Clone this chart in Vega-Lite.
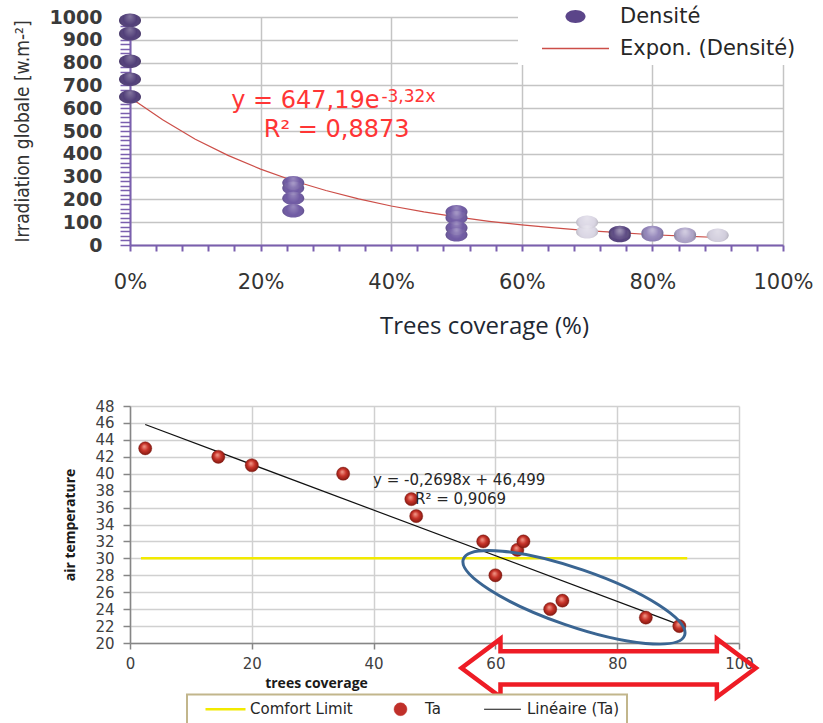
{
  "$schema": "https://vega.github.io/schema/vega-lite/v6.json",
  "background": "white",
  "padding": {"left": 12, "top": 0, "right": 0, "bottom": 0},
  "bounds": "flush",
  "spacing": 161,
  "datasets": {
    "densite": [
      {"couverture": 0, "irradiation": 985},
      {"couverture": 0, "irradiation": 927},
      {"couverture": 0, "irradiation": 806},
      {"couverture": 0, "irradiation": 727},
      {"couverture": 0, "irradiation": 650},
      {"couverture": 0.25, "irradiation": 273},
      {"couverture": 0.25, "irradiation": 250},
      {"couverture": 0.25, "irradiation": 205},
      {"couverture": 0.25, "irradiation": 150},
      {"couverture": 0.5, "irradiation": 145},
      {"couverture": 0.5, "irradiation": 120},
      {"couverture": 0.5, "irradiation": 75},
      {"couverture": 0.5, "irradiation": 45},
      {"couverture": 0.7, "irradiation": 100},
      {"couverture": 0.7, "irradiation": 58},
      {"couverture": 0.75, "irradiation": 55},
      {"couverture": 0.75, "irradiation": 42},
      {"couverture": 0.8, "irradiation": 55},
      {"couverture": 0.8, "irradiation": 45},
      {"couverture": 0.85, "irradiation": 47},
      {"couverture": 0.85, "irradiation": 38},
      {"couverture": 0.9, "irradiation": 43}
    ],
    "tendance": [
      {"couverture": 0, "irradiation": 647, "serie": "Expon. (Densité)"},
      {"couverture": 0.05, "irradiation": 549, "serie": "Expon. (Densité)"},
      {"couverture": 0.1, "irradiation": 464, "serie": "Expon. (Densité)"},
      {"couverture": 0.15, "irradiation": 393, "serie": "Expon. (Densité)"},
      {"couverture": 0.2, "irradiation": 333, "serie": "Expon. (Densité)"},
      {"couverture": 0.25, "irradiation": 282, "serie": "Expon. (Densité)"},
      {"couverture": 0.3, "irradiation": 239, "serie": "Expon. (Densité)"},
      {"couverture": 0.35, "irradiation": 202, "serie": "Expon. (Densité)"},
      {"couverture": 0.4, "irradiation": 171, "serie": "Expon. (Densité)"},
      {"couverture": 0.45, "irradiation": 145, "serie": "Expon. (Densité)"},
      {"couverture": 0.5, "irradiation": 123, "serie": "Expon. (Densité)"},
      {"couverture": 0.55, "irradiation": 104, "serie": "Expon. (Densité)"},
      {"couverture": 0.6, "irradiation": 88, "serie": "Expon. (Densité)"},
      {"couverture": 0.65, "irradiation": 75, "serie": "Expon. (Densité)"},
      {"couverture": 0.7, "irradiation": 63, "serie": "Expon. (Densité)"},
      {"couverture": 0.75, "irradiation": 54, "serie": "Expon. (Densité)"},
      {"couverture": 0.8, "irradiation": 45, "serie": "Expon. (Densité)"},
      {"couverture": 0.85, "irradiation": 39, "serie": "Expon. (Densité)"},
      {"couverture": 0.9, "irradiation": 33, "serie": "Expon. (Densité)"}
    ],
    "ta": [
      {"couverture": 2.5, "temperature": 43},
      {"couverture": 14.5, "temperature": 42},
      {"couverture": 20, "temperature": 41},
      {"couverture": 35, "temperature": 40},
      {"couverture": 46.2, "temperature": 37},
      {"couverture": 47, "temperature": 35},
      {"couverture": 58, "temperature": 32},
      {"couverture": 63.6, "temperature": 31},
      {"couverture": 64.6, "temperature": 32},
      {"couverture": 60, "temperature": 28},
      {"couverture": 69, "temperature": 24},
      {"couverture": 71, "temperature": 25},
      {"couverture": 84.7, "temperature": 23},
      {"couverture": 90.2, "temperature": 22}
    ],
    "confort": [
      {"couverture": 1.8, "temperature": 30, "serie": "Comfort Limit"},
      {"couverture": 91.5, "temperature": 30, "serie": "Comfort Limit"}
    ],
    "lineaire": [
      {"couverture": 2.5, "temperature": 45.82, "serie": "Linéaire (Ta)"},
      {"couverture": 90.5, "temperature": 22.08, "serie": "Linéaire (Ta)"}
    ]
  },
  "vconcat": [
    {
      "width": 653,
      "height": 228,
      "layer": [
        {
          "data": {"name": "tendance"},
          "mark": {"type": "line", "strokeWidth": 1.2},
          "encoding": {
            "x": {
              "field": "couverture", "type": "quantitative",
              "scale": {"domain": [0, 1], "nice": false, "zero": false},
              "axis": {
                "title": "Trees coverage  (%)",
                "titleFont": "Open Sans", "titleFontSize": 24, "titleFontWeight": "normal", "titleColor": "#1e2833",
                "titleX": 354, "titleY": 81, "titleBaseline": "middle",
                "values": [0, 0.04, 0.08, 0.12, 0.16, 0.2, 0.24, 0.28, 0.32, 0.36, 0.4, 0.44, 0.48, 0.52, 0.56, 0.6, 0.64, 0.68, 0.72, 0.76, 0.8, 0.84, 0.88, 0.92, 0.96, 1],
                "tickCount": 200,
                "labelExpr": "round(datum.value*100) % 20 === 0 ? round(datum.value*100) + '%' : ''",
                "labelFont": "DejaVu Sans", "labelFontSize": 21, "labelColor": "#333333",
                "labelPadding": 20, "labelFlush": false, "labelOverlap": false,
                "tickSize": 6, "tickColor": "#7a5fae", "tickWidth": 2,
                "domainColor": "#7a5fae", "domainWidth": 2,
                "grid": true, "gridColor": "#c4c4c4", "gridWidth": 1.5,
                "gridOpacity": {"condition": {"test": "round(datum.value*100) % 20 === 0", "value": 1}, "value": 0}
              }
            },
            "y": {
              "field": "irradiation", "type": "quantitative",
              "scale": {"domain": [0, 1000], "nice": false, "zero": false},
              "axis": {
                "title": "Irradiation globale [w.m-²]",
                "titleFont": "Liberation Sans Narrow, DejaVu Sans Condensed, sans-serif", "titleFontSize": 19, "titleFontWeight": "normal", "titleColor": "#333333",
                "titleX": -108, "titleBaseline": "middle",
                "values": [0, 20, 40, 60, 80, 100, 120, 140, 160, 180, 200, 220, 240, 260, 280, 300, 320, 340, 360, 380, 400, 420, 440, 460, 480, 500, 520, 540, 560, 580, 600, 620, 640, 660, 680, 700, 720, 740, 760, 780, 800, 820, 840, 860, 880, 900, 920, 940, 960, 980, 1000],
                "tickCount": 200,
                "labelExpr": "datum.value % 100 === 0 ? '' + datum.value : ''",
                "labelFont": "DejaVu Sans", "labelFontWeight": "bold", "labelFontSize": 19, "labelColor": "#3a3a3a",
                "labelPadding": 18, "labelFlush": false, "labelOverlap": false,
                "tickSize": 10, "tickColor": "#7a5fae", "tickWidth": 1.5,
                "domainColor": "#7a5fae", "domainWidth": 2,
                "grid": true, "gridColor": "#c4c4c4", "gridWidth": 1.5,
                "gridOpacity": {"condition": {"test": "datum.value % 100 === 0", "value": 1}, "value": 0}
              }
            },
            "color": {
              "field": "serie", "type": "nominal",
              "scale": {"domain": ["Densité", "Expon. (Densité)"], "range": ["#5b4589", "#cc4e48"]},
              "legend": {
                "orient": "none", "legendX": 388, "legendY": -17, "direction": "vertical",
                "title": "\u00a0", "titleOrient": "left", "titleFontSize": 20, "titlePadding": 41,
                "padding": 6, "fillColor": "white", "strokeColor": null,
                "symbolSize": 400, "labelOffset": 34, "rowPadding": 10,
                "labelFont": "DejaVu Sans", "labelFontSize": 21, "labelColor": "#262626", "labelLimit": 300,
                "encode": {
                  "symbols": {
                    "update": {
                      "shape": {"signal": "datum.value === 'Expon. (Densité)' ? 'M -3.35 0 L 3.35 0' : 'M -1 0 A 1 0.65 0 1 1 1 0 A 1 0.65 0 1 1 -1 0 Z'"},
                      "fill": {"signal": "datum.value === 'Expon. (Densité)' ? 'transparent' : '#5b4589'"},
                      "stroke": {"signal": "datum.value === 'Expon. (Densité)' ? '#cc4e48' : '#5b4589'"},
                      "strokeWidth": {"signal": "datum.value === 'Expon. (Densité)' ? 1.5 : 0"},
                      "opacity": {"value": 1}
                    }
                  }
                }
              }
            }
          }
        },
        {
          "data": {"name": "densite"},
          "mark": {"type": "point", "filled": true, "size": 484, "opacity": 1, "strokeWidth": 0,
            "shape": "M -1 0 A 1 0.62 0 1 1 1 0 A 1 0.62 0 1 1 -1 0 Z"},
          "encoding": {
            "x": {"field": "couverture", "type": "quantitative"},
            "y": {"field": "irradiation", "type": "quantitative"},
            "fill": {
              "field": "couverture", "type": "ordinal",
              "scale": {"domain": [0, 0.25, 0.5, 0.7, 0.75, 0.8, 0.85, 0.9], "range": ["#4b3874", "#6a54a0", "#6a54a0", "#dad6e4", "#4e3a78", "#8a7bb4", "#a89ec4", "#d2cedd"]},
              "legend": null
            }
          }
        },
        {
          "data": {"name": "densite"},
          "mark": {
            "type": "point", "filled": true, "size": 484, "strokeWidth": 0,
            "shape": "M -1 0 A 1 0.62 0 1 1 1 0 A 1 0.62 0 1 1 -1 0 Z",
            "fill": {"gradient": "radial", "x1": 0.5, "y1": 0.3, "r1": 0, "x2": 0.5, "y2": 0.5, "r2": 0.55,
              "stops": [{"offset": 0, "color": "rgba(255,255,255,0.45)"}, {"offset": 0.55, "color": "rgba(255,255,255,0.05)"}, {"offset": 1, "color": "rgba(0,0,0,0.35)"}]}
          },
          "encoding": {
            "x": {"field": "couverture", "type": "quantitative"},
            "y": {"field": "irradiation", "type": "quantitative"}
          }
        },
        {
          "data": {"values": [{}]},
          "mark": {"type": "text", "text": "y = 647,19e", "align": "left", "baseline": "middle", "font": "DejaVu Sans", "fontSize": 24, "color": "#ff3535"},
          "encoding": {"x": {"datum": 0.155}, "y": {"datum": 630}}
        },
        {
          "data": {"values": [{}]},
          "mark": {"type": "text", "text": "-3,32x", "align": "left", "baseline": "middle", "font": "DejaVu Sans", "fontSize": 17, "color": "#ff3535"},
          "encoding": {"x": {"datum": 0.385}, "y": {"datum": 650}}
        },
        {
          "data": {"values": [{}]},
          "mark": {"type": "text", "text": "R² = 0,8873", "align": "left", "baseline": "middle", "font": "DejaVu Sans", "fontSize": 24, "color": "#ff3535"},
          "encoding": {"x": {"datum": 0.205}, "y": {"datum": 504}}
        }
      ]
    },
    {
      "width": 609,
      "height": 237,
      "layer": [
        {
          "data": {"name": "confort"},
          "mark": {"type": "line", "strokeWidth": 2.5},
          "encoding": {
            "x": {
              "field": "couverture", "type": "quantitative",
              "scale": {"domain": [0, 100], "nice": false, "zero": false},
              "axis": {
                "title": "trees coverage",
                "titleFont": "Open Sans", "titleFontWeight": "bold", "titleFontSize": 14, "titleColor": "#1a1a1a",
                "titleX": 186, "titleY": 40, "titleBaseline": "middle",
                "values": [0, 20, 40, 60, 80, 100], "tickCount": 50, "format": "d",
                "labelFont": "DejaVu Sans", "labelFontSize": 15, "labelColor": "#404040",
                "labelPadding": 7, "labelFlush": false, "labelOverlap": false,
                "tickSize": 6, "tickColor": "#868686", "tickWidth": 1.5,
                "domainColor": "#868686", "domainWidth": 1.5,
                "grid": true, "gridColor": "#d0d0d0", "gridWidth": 1.5
              }
            },
            "y": {
              "field": "temperature", "type": "quantitative",
              "scale": {"domain": [20, 48], "nice": false, "zero": false},
              "axis": {
                "title": "air temperature",
                "titleFont": "Open Sans", "titleFontWeight": "bold", "titleFontSize": 14, "titleColor": "#1a1a1a",
                "titleX": -60, "titleBaseline": "middle",
                "values": [20, 22, 24, 26, 28, 30, 32, 34, 36, 38, 40, 42, 44, 46, 48], "tickCount": 50, "format": "d",
                "labelFont": "DejaVu Sans", "labelFontSize": 15, "labelColor": "#404040",
                "labelPadding": 9, "labelFlush": false, "labelOverlap": false,
                "tickSize": 7, "tickColor": "#868686", "tickWidth": 1.5,
                "domainColor": "#868686", "domainWidth": 1.5,
                "grid": true, "gridColor": "#d0d0d0", "gridWidth": 1.5
              }
            },
            "color": {
              "field": "serie", "type": "nominal",
              "scale": {"domain": ["Comfort Limit", "Ta", "Linéaire (Ta)"], "range": ["#f2ea00", "#c0302a", "#111111"]},
              "legend": {
                "orient": "none", "legendX": 57, "legendY": 288.5, "direction": "horizontal", "columns": 3,
                "title": "\u00a0", "titleOrient": "left", "titleFontSize": 15, "titlePadding": 24,
                "padding": 7, "fillColor": "white", "strokeColor": "#c2b68c",
                "symbolSize": 256, "labelOffset": 17, "columnPadding": 40,
                "labelFont": "DejaVu Sans", "labelFontSize": 15, "labelColor": "#262626", "labelLimit": 250,
                "encode": {
                  "legend": {"update": {"strokeWidth": {"value": 2}}},
                  "symbols": {
                    "update": {
                      "shape": {"signal": "datum.value === 'Ta' ? 'M -0.8 0 A 0.8 0.8 0 1 1 0.8 0 A 0.8 0.8 0 1 1 -0.8 0 Z' : (datum.value === 'Comfort Limit' ? 'M -2.5 0 L 2.5 0' : 'M -2.3 0 L 2.3 0')"},
                      "fill": {"signal": "datum.value === 'Ta' ? '#c0302a' : 'transparent'"},
                      "stroke": {"signal": "datum.value === 'Comfort Limit' ? '#f2ea00' : (datum.value === 'Ta' ? '#8a1c14' : '#111111')"},
                      "strokeWidth": {"signal": "datum.value === 'Comfort Limit' ? 2.5 : (datum.value === 'Ta' ? 0.5 : 1.2)"},
                      "opacity": {"value": 1}
                    }
                  }
                }
              }
            }
          }
        },
        {
          "data": {"name": "lineaire"},
          "mark": {"type": "line", "strokeWidth": 1.2},
          "encoding": {
            "x": {"field": "couverture", "type": "quantitative"},
            "y": {"field": "temperature", "type": "quantitative"},
            "color": {"field": "serie", "type": "nominal"}
          }
        },
        {
          "data": {"name": "ta"},
          "mark": {
            "type": "point", "shape": "circle", "filled": true, "size": 175, "opacity": 1,
            "stroke": "#7a1a12", "strokeWidth": 0.4,
            "fill": {"gradient": "radial", "x1": 0.42, "y1": 0.35, "r1": 0, "x2": 0.5, "y2": 0.5, "r2": 0.6,
              "stops": [{"offset": 0, "color": "#f4a090"}, {"offset": 0.45, "color": "#c8342a"}, {"offset": 1, "color": "#701008"}]}
          },
          "encoding": {
            "x": {"field": "couverture", "type": "quantitative"},
            "y": {"field": "temperature", "type": "quantitative"}
          }
        },
        {
          "data": {"values": [{}]},
          "mark": {"type": "text", "text": "y = -0,2698x + 46,499", "align": "left", "baseline": "middle", "font": "DejaVu Sans", "fontSize": 15, "color": "#262626"},
          "encoding": {"x": {"datum": 39.9}, "y": {"datum": 39.26}}
        },
        {
          "data": {"values": [{}]},
          "mark": {"type": "text", "text": "R² = 0,9069", "align": "left", "baseline": "middle", "font": "DejaVu Sans", "fontSize": 15, "color": "#262626"},
          "encoding": {"x": {"datum": 46.8}, "y": {"datum": 37.0}}
        },
        {
          "data": {"values": [{}]},
          "mark": {
            "type": "point", "filled": false, "size": 54756, "angle": 19,
            "shape": "M -1 0 A 1 0.245 0 1 1 1 0 A 1 0.245 0 1 1 -1 0 Z",
            "stroke": "#3a6592", "strokeWidth": 3, "opacity": 1
          },
          "encoding": {"x": {"datum": 72.9}, "y": {"datum": 25.4}}
        },
        {
          "data": {"values": [{}]},
          "mark": {
            "type": "point", "filled": false, "size": 86671, "clip": false,
            "shape": "M -1 0 L -0.735 -0.198 L -0.735 -0.113 L 0.735 -0.113 L 0.735 -0.198 L 1 0 L 0.735 0.198 L 0.735 0.113 L -0.735 0.113 L -0.735 0.198 Z",
            "stroke": "#ee1c25", "strokeWidth": 4.5, "opacity": 1
          },
          "encoding": {"x": {"datum": 78.6}, "y": {"datum": 17.05}}
        }
      ]
    }
  ],
  "resolve": {
    "scale": {"fill": "independent", "color": "independent"},
    "legend": {"fill": "independent", "color": "independent"}
  },
  "config": {
    "view": {"stroke": null},
    "axis": {"labelFlush": false}
  }
}
